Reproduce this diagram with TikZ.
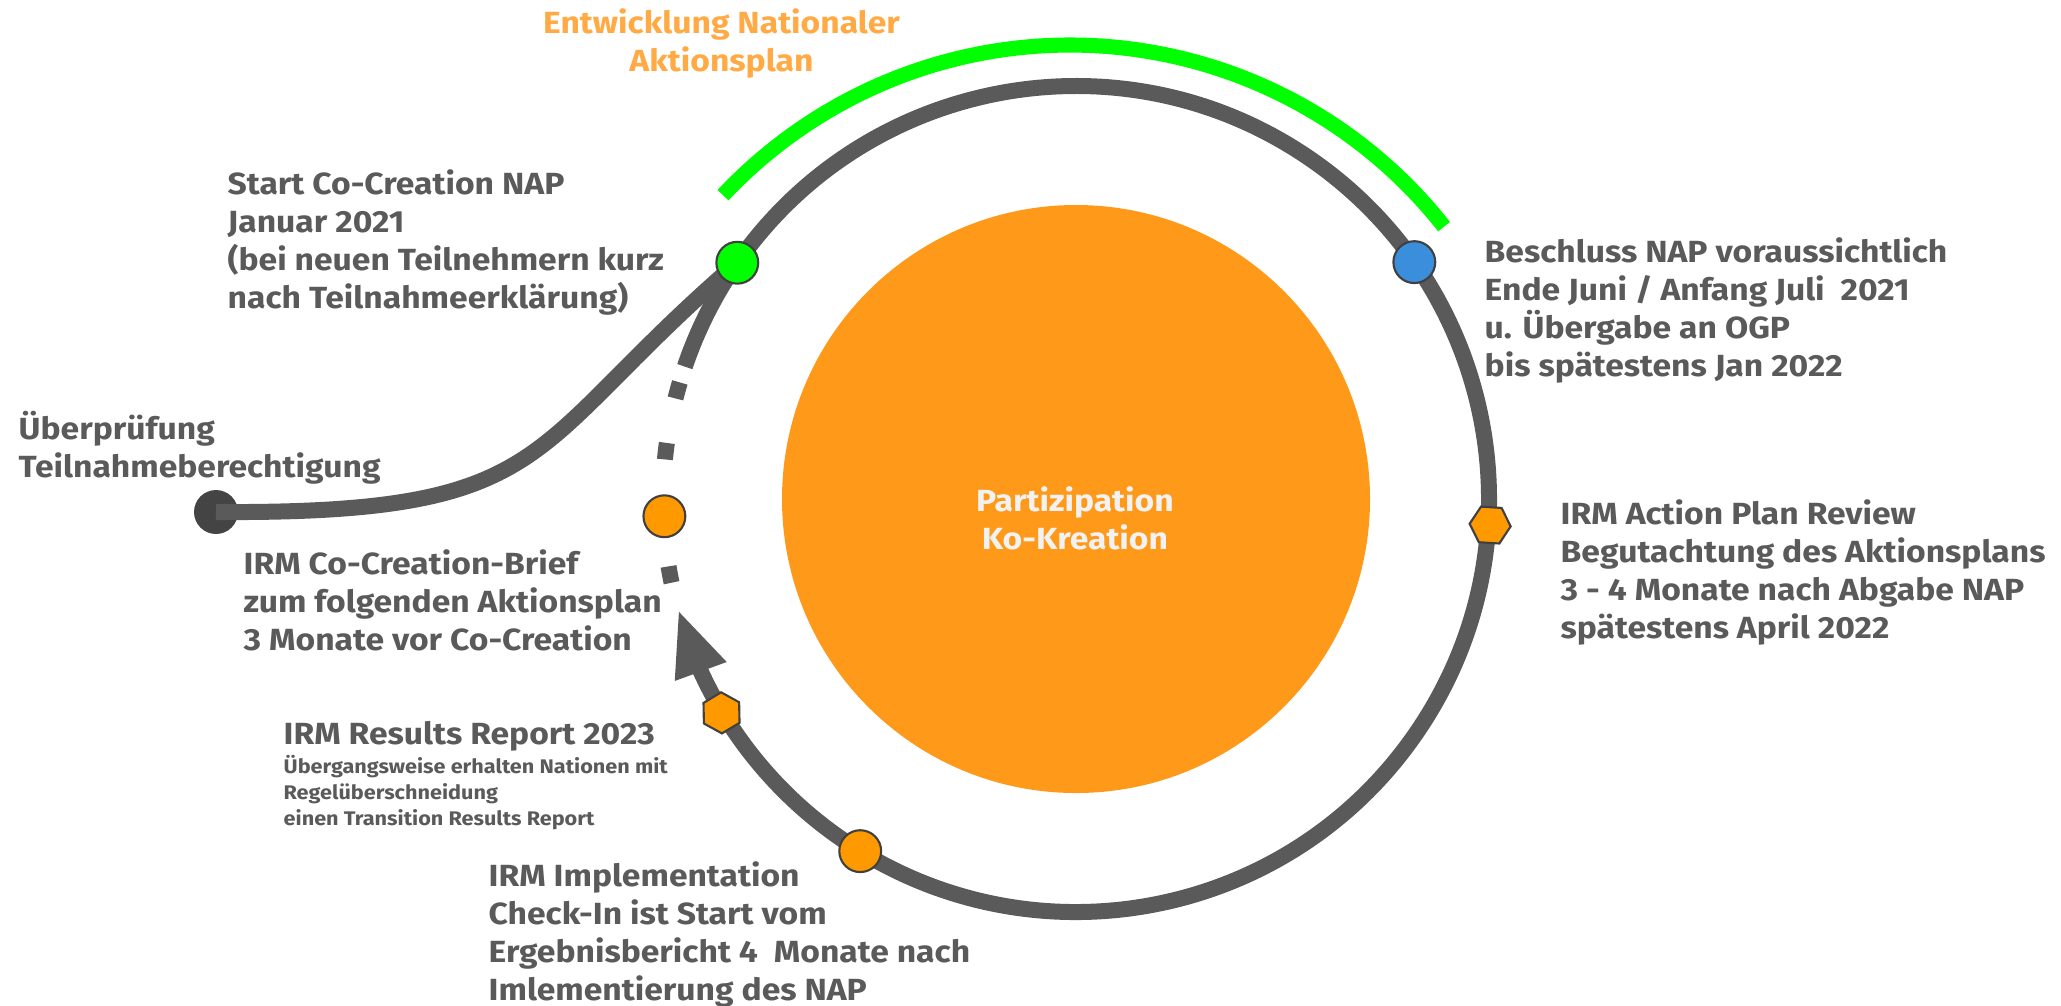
\documentclass[tikz,border=0pt]{standalone}
\usepackage{fontspec}
\setmainfont{Fira Sans}[FakeStretch=1.1]
\usetikzlibrary{arrows.meta,bending,shapes.geometric}
\definecolor{ringgray}{HTML}{5A5A5A}
\definecolor{txtgray}{HTML}{5A5A5A}
\definecolor{bordergray}{HTML}{404040}
\definecolor{dotgray}{HTML}{444444}
\definecolor{discorange}{HTML}{FF991A}
\definecolor{nodeorange}{HTML}{FF9900}
\definecolor{titleorange}{HTML}{FFAA44}
\definecolor{nodegreen}{HTML}{00FF00}
\definecolor{nodeblue}{HTML}{3A8EDB}
\definecolor{lighttxt}{HTML}{F2F2F2}
\tikzset{
  ring/.style={draw=ringgray, line width=4.55pt},
  greenarc/.style={draw=nodegreen, line width=4.3pt},
  milestone/.style={circle, draw=bordergray, line width=0.6pt, minimum size=11.9pt, inner sep=0pt},
  hexa/.style={regular polygon, regular polygon sides=6, draw=bordergray, line width=0.6pt, fill=nodeorange, minimum size=11.7pt, inner sep=0pt},
  lbl/.style={font=\bfseries\fontsize{8.7}{10.8}\selectfont, text=txtgray, align=left, inner sep=0pt, anchor=north west},
  smalllbl/.style={font=\bfseries\fontsize{5.6}{7.4}\selectfont, text=txtgray, align=left, inner sep=0pt, anchor=north west},
  arrowtip/.tip={Triangle[length=18.8pt,width=14.2pt]}
}
\begin{document}
\begin{tikzpicture}[x=0.01cm,y=0.01cm]
\useasboundingbox (0,0) rectangle (2061,-1005);
\coordinate (C) at (1076,-499);
\coordinate (G) at (1070,-521);
% green arc
\draw[greenarc] ([shift={(38.2:476)}]G) arc[start angle=38.2, end angle=136.8, radius=476];
% orange disc
\fill[discorange] (C) circle[radius=294];
\node[font=\bfseries\fontsize{8.7}{10.8}\selectfont, text=lighttxt, align=center, inner sep=0pt, anchor=north] (core) at (1075,-486) {Partizipation\\Ko-Kreation};
% node positions
\node[milestone, fill=dotgray, draw=dotgray] (start) at (216,-512) {};
\coordinate (gpos) at ([shift={(145.1:413)}]C);
% S-curve
\draw[ring] (start.center) .. controls (560,-514) and (520,-450) .. (gpos);
% main ring, clockwise with arrow
\draw[ring, -{arrowtip[flex]}] (gpos) arc[start angle=145.1, end angle=-164.5, radius=413] coordinate (tip);
% short solid piece and dashes
\draw[ring] (gpos) arc[start angle=145.1, end angle=161.3, radius=413];
\draw[ring, dash pattern=on 4.72pt off 12.9pt] ([shift={(163.6:413)}]C) arc[start angle=163.6, end angle=195, radius=413];
% milestones
\node[milestone, fill=nodegreen] (cocreation) at (gpos) {};
\node[milestone, fill=nodeblue] (beschluss) at ([shift={(35:413)}]C) {};
\node[hexa, shape border rotate=-3.6] (review) at ([shift={(-3.6:415)}]C) {};
\node[milestone, fill=nodeorange] (implement) at ([shift={(238.5:413)}]C) {};
\node[hexa, shape border rotate=31.1] (results) at ([shift={(211.1:414)}]C) {};
\node[milestone, fill=nodeorange] (brief) at ([shift={(182.4:412)}]C) {};
% labels
\node[font=\bfseries\fontsize{8.7}{10.8}\selectfont, text=titleorange, align=center, inner sep=0pt, anchor=north] (title) at (721.5,-8) {Entwicklung Nationaler\\Aktionsplan};
\node[lbl] (tstart) at (227,-169) {Start Co-Creation NAP\\Januar 2021\\(bei neuen Teilnehmern kurz\\nach Teilnahmeerklärung)};
\node[lbl] (tcheck) at (18,-410) {Überprüfung\\Teilnahmeberechtigung};
\node[lbl] (tbrief) at (243,-549) {IRM Co-Creation-Brief\\zum folgenden Aktionsplan\\3 Monate vor Co-Creation};
\node[lbl] (tresults) at (283,-721) {IRM Results Report 2023};
\node[smalllbl] (tresultsnote) at (283,-755) {Übergangsweise erhalten Nationen mit\\Regelüberschneidung\\einen Transition Results Report};
\node[lbl] (timpl) at (488,-861) {IRM Implementation\\Check-In ist Start vom\\Ergebnisbericht 4~~Monate nach\\Imlementierung des NAP};
\node[lbl] (tbeschluss) at (1484,-237) {Beschluss NAP voraussichtlich\\Ende Juni / Anfang Juli~~2021\\u. Übergabe an OGP\\bis spätestens Jan 2022};
\node[lbl] (treview) at (1560,-499) {IRM Action Plan Review\\Begutachtung des Aktionsplans\\3 - 4 Monate nach Abgabe NAP\\spätestens April 2022};
\end{tikzpicture}
\end{document}
